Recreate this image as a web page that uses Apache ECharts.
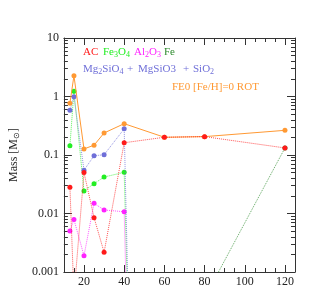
<!DOCTYPE html>
<html><head><meta charset="utf-8">
<script src="https://cdn.jsdelivr.net/npm/echarts@6/dist/echarts.min.js"></script>
<style>html,body{margin:0;padding:0;background:#fff}#c{width:334px;height:293px}</style>
</head><body><div id="c"></div>
<script>
// Progenitor masses (x)
const masses = [13, 15, 20, 25, 30, 40, 60, 80, 120];
// Dust masses in solar masses (values far below the plotted range are off-chart)
const acMass     = [0.028, 0.0004, 0.050, 0.0085, 0.00217, 0.162, 0.201, 0.206, 0.132];
const fe3o4Mass  = [0.144, 1.23, 0.0243, 0.0324, 0.042, 0.0506, 1e-27, 1e-27, 1e-27];
const al2o3Mass  = [0.00502, 0.0079, 0.0019, 0.0149, 0.0115, 0.0107, 1e-30, 1e-30, 1e-30];
const feMass     = [1e-30, 1e-30, 1e-30, 1e-30, 1e-30, 1e-30, 1e-30, 0.00036, 0.132];
const silMass    = [0.58, 0.99, 0.055, 0.097, 0.101, 0.28, 1e-30, 1e-30, 1e-30];
const totalMass  = [0.766, 2.27, 0.127, 0.147, 0.238, 0.343, 0.201, 0.206, 0.264];

const xMajorTicks = [20, 40, 60, 80, 100, 120];
const xMinorTicks = [15, 25, 30, 35, 45, 50, 55, 65, 70, 75, 85, 90, 95, 105, 110, 115];
const yMajorTicks = [0.001, 0.01, 0.1, 1, 10];
const yMinorTicks = [0.002,0.003,0.004,0.005,0.006,0.007,0.008,0.009,
                     0.02,0.03,0.04,0.05,0.06,0.07,0.08,0.09,
                     0.2,0.3,0.4,0.5,0.6,0.7,0.8,0.9,
                     2,3,4,5,6,7,8,9];

const FONT = 'Liberation Serif';
const AX = '#333';
const C = {ac:'#ff1a1a', fe3o4:'#22ee22', al2o3:'#ff22ff', fe:'#2e8b2e', sil:'#6f6fd8', tot:'#ff9933'};

function xAx(pos, ticks, len, labels, line) {
  return {
    type:'value', position:pos, min:10, max:125, interval:5,
    axisLine:{show:line, onZero:false, lineStyle:{color:AX, width:1}},
    axisTick:{show:true, inside:true, length:len, customValues:ticks, lineStyle:{color:AX, width:1}},
    axisLabel:{show:labels, customValues:xMajorTicks, color:'#222', fontFamily:FONT, fontSize:12, margin:4},
    splitLine:{show:false}
  };
}
function yAx(pos, ticks, len, labels, line, extra) {
  return Object.assign({
    type:'log', logBase:10, position:pos, min:0.001, max:10,
    axisLine:{show:line, onZero:false, lineStyle:{color:AX, width:1}},
    axisTick:{show:true, inside:true, length:len, customValues:ticks, lineStyle:{color:AX, width:1}},
    axisLabel:{show:labels, customValues:yMajorTicks, color:'#222', fontFamily:FONT, fontSize:12, margin:5,
               formatter:v => String(v)},
    splitLine:{show:false}, minorTick:{show:false}
  }, extra || {});
}

function mk(name, vals, color, solid, z) {
  return {
    type:'line', name, z,
    data: masses.map((m, i) => [m, vals[i]]),
    symbol:'circle', symbolSize:5, showSymbol:true, clip:true,
    itemStyle:{color},
    lineStyle:{color, width:1, type: solid ? 'solid' : 'dotted', opacity: solid ? 1 : 0.75},
    emphasis:{disabled:true}
  };
}

const tokenStyles = (color) => ({
  n:{fontFamily:FONT, fontSize:11, color, lineHeight:12, verticalAlign:'middle'},
  s:{fontFamily:FONT, fontSize:8, color, lineHeight:12, verticalAlign:'bottom'}
});
function label(x, y, text, color) {
  return {type:'text', left:x, top:y, style:{text, rich:tokenStyles(color), fill:color,
          font:'11px ' + FONT}, z:100};
}

const chart = echarts.init(document.getElementById('c'), null, {renderer:'canvas'});
chart.setOption({
  animation:false,
  backgroundColor:'#fff',
  grid:{left:62, right:39, top:38, bottom:21, containLabel:false},
  xAxis:[
    xAx('bottom', xMajorTicks, 7, true, true),
    xAx('bottom', xMinorTicks, 4, false, false),
    xAx('top', xMajorTicks, 7, false, true),
    xAx('top', xMinorTicks, 4, false, false)
  ],
  yAxis:[
    yAx('left', yMajorTicks, 8, true, true, {
      name:'{n|Mass [M}{s|\u2299}{n|]}', nameLocation:'middle', nameGap:35, nameRotate:90,
      nameTextStyle:{rich:{
        n:{fontFamily:FONT, fontSize:12, color:'#222', lineHeight:14, verticalAlign:'middle'},
        s:{fontFamily:FONT, fontSize:8, color:'#222', lineHeight:14, verticalAlign:'bottom'}
      }}
    }),
    yAx('left', yMinorTicks, 4, false, false),
    yAx('right', yMajorTicks, 8, false, true),
    yAx('right', yMinorTicks, 4, false, false)
  ],
  series:[
    mk('Fe', feMass, C.fe, false, 2),
    mk('Fe3O4', fe3o4Mass, C.fe3o4, false, 3),
    mk('Al2O3', al2o3Mass, C.al2o3, false, 4),
    mk('Mg2SiO4 + MgSiO3 + SiO2', silMass, C.sil, false, 5),
    mk('FE0 [Fe/H]=0 ROT', totalMass, C.tot, true, 6),
    mk('AC', acMass, C.ac, false, 7)
  ],
  graphic:[
    label(83, 47, '{n|AC}', C.ac),
    label(103, 47, '{n|Fe}{s|3}{n|O}{s|4}', C.fe3o4),
    label(134, 47, '{n|Al}{s|2}{n|O}{s|3}', C.al2o3),
    label(164, 47, '{n|Fe}', C.fe),
    label(83, 64, '{n|Mg}{s|2}{n|SiO}{s|4}', C.sil),
    label(127, 64, '{n|+}', C.sil),
    label(138, 64, '{n|MgSiO3}', C.sil),
    label(183, 64, '{n|+}', C.sil),
    label(193, 64, '{n|SiO}{s|2}', C.sil),
    label(172, 82, '{n|FE0 [Fe/H]=0 ROT}', C.tot)
  ]
});
</script></body></html>
